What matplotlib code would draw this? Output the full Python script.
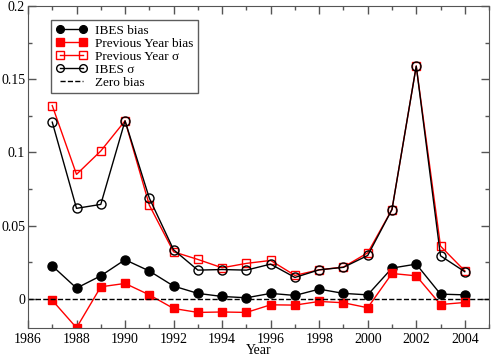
import matplotlib
matplotlib.use("Agg")
from matplotlib import pyplot as plt
from matplotlib.ticker import MultipleLocator

plt.rcParams['font.family'] = ['Liberation Serif', 'DejaVu Serif']

years = list(range(1987, 2005))

ibes_bias = [0.0225, 0.0073, 0.0157, 0.0267, 0.019, 0.0087, 0.0037, 0.0016, 0.0007,
             0.0037, 0.0023, 0.0066, 0.0037, 0.0027, 0.021, 0.0237, 0.0032, 0.0027]
prev_bias = [-0.001, -0.0198, 0.0082, 0.0105, 0.0027, -0.0066, -0.0093, -0.009, -0.0093,
             -0.0041, -0.0043, -0.0018, -0.0027, -0.0061, 0.0173, 0.0157, -0.0039, -0.0025]
prev_sigma = [0.132, 0.085, 0.101, 0.1216, 0.064, 0.0321, 0.0269, 0.0212, 0.0242,
              0.0262, 0.016, 0.0198, 0.0217, 0.0314, 0.061, 0.159, 0.036, 0.0191]
ibes_sigma = [0.1207, 0.0618, 0.0645, 0.1216, 0.0688, 0.0335, 0.0196, 0.02, 0.0196,
              0.0237, 0.0146, 0.0198, 0.0215, 0.0296, 0.061, 0.159, 0.0294, 0.0185]

fig = plt.figure(figsize=(4.91, 3.57), dpi=100)
ax = fig.add_axes([0.057, 0.081, 0.939, 0.902])

ax.plot(years, ibes_bias, 'k-o', lw=1, ms=6.5, label='IBES bias')
ax.plot(years, prev_bias, '-s', color='red', lw=1, ms=6, label='Previous Year bias')
ax.plot(years, prev_sigma, '-s', color='red', mfc='none', lw=1, ms=6, label='Previous Year σ')
ax.plot(years, ibes_sigma, 'k-o', mfc='none', lw=1, ms=6.5, label='IBES σ')
ax.axhline(0, color='k', ls='--', lw=1, label='Zero bias')

ax.set_xlim(1986, 2005)
ax.set_ylim(-0.02, 0.2)
ax.xaxis.set_major_locator(MultipleLocator(2))
ax.xaxis.set_minor_locator(MultipleLocator(1))
ax.yaxis.set_minor_locator(MultipleLocator(0.025))
ax.set_yticks([0, 0.05, 0.1, 0.15, 0.2])
ax.set_yticklabels(['0', '0.05', '0.1', '0.15', '0.2'])
ax.tick_params(which='both', direction='in', top=True, right=True, labelsize=10, width=1, color='#555555')
ax.tick_params(which='major', length=6)
ax.tick_params(which='minor', length=3)
ax.tick_params(axis='y', pad=2)
ax.set_xlabel('Year', fontsize=10)
ax.xaxis.set_label_coords(0.5, -0.05)
for s in ax.spines.values():
    s.set_color('#555555')

leg = ax.legend(loc='upper left', bbox_to_anchor=(0.05, 0.9565), borderaxespad=0,
                fontsize=9.5, frameon=True, fancybox=False, edgecolor='#333333',
                handlelength=2.4, labelspacing=0.05, borderpad=0.35, handletextpad=0.6,
                numpoints=2, markerscale=0.85)
leg.get_frame().set_linewidth(1)

fig.savefig('out.png', dpi=100)
